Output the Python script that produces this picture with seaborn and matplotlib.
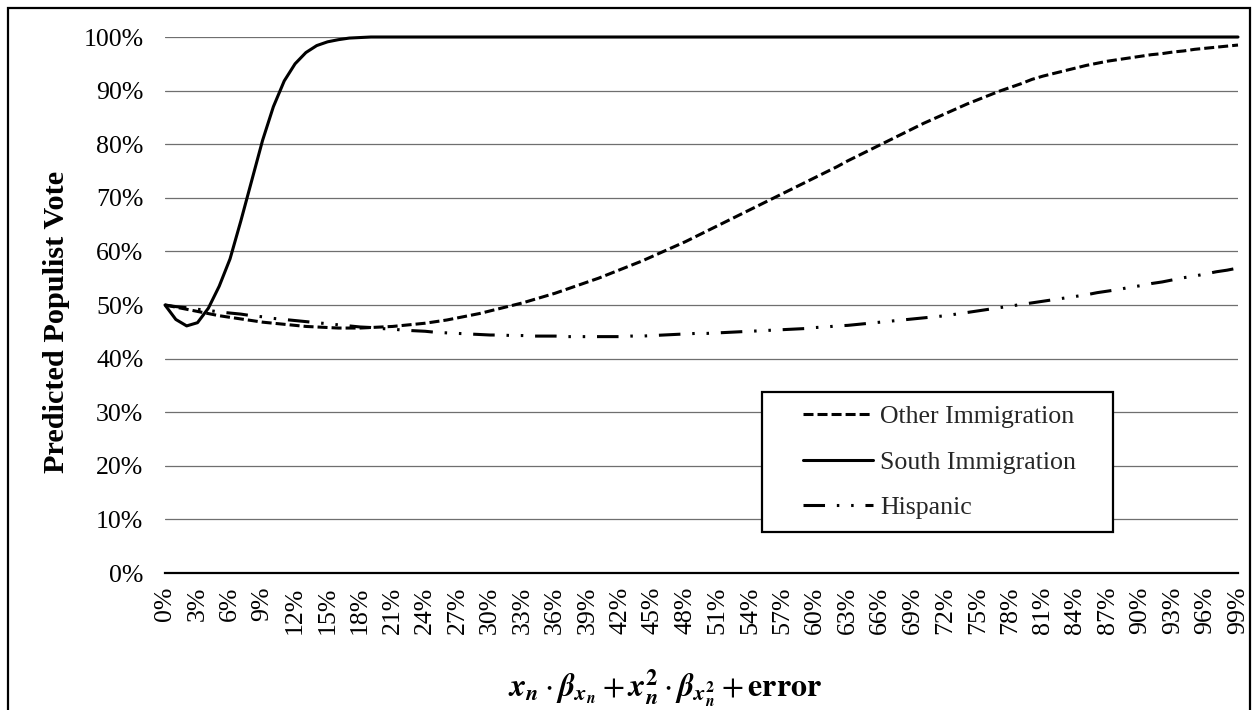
import matplotlib
matplotlib.use("Agg")
import matplotlib.pyplot as plt
from matplotlib.patches import Rectangle
from matplotlib.ticker import PercentFormatter
import seaborn as sns
import pandas as pd

# ---------------- data ----------------
x_values = list(range(100))          # category positions 0% .. 99%
x_tick_step = 3

other_immigration = [
    50.0, 49.6, 49.2, 48.8, 48.4, 48.0, 47.7, 47.4, 47.1, 46.8,
    46.6, 46.4, 46.2, 46.0, 45.9, 45.8, 45.7, 45.7, 45.7, 45.8,
    45.9, 46.0, 46.2, 46.4, 46.6, 46.9, 47.2, 47.6, 48.0, 48.4,
    48.9, 49.4, 49.9, 50.4, 51.0, 51.6, 52.2, 52.9, 53.6, 54.3,
    55.0, 55.8, 56.6, 57.4, 58.2, 59.1, 60.0, 60.9, 61.8, 62.8,
    63.8, 64.8, 65.8, 66.8, 67.8, 68.8, 69.8, 70.8, 71.8, 72.8,
    73.8, 74.8, 75.8, 76.9, 77.9, 78.9, 79.9, 80.9, 81.9, 82.9,
    83.9, 84.8, 85.7, 86.6, 87.5, 88.3, 89.1, 89.9, 90.6, 91.3,
    92.1, 92.7, 93.2, 93.7, 94.2, 94.7, 95.1, 95.5, 95.8, 96.1,
    96.4, 96.7, 96.9, 97.2, 97.4, 97.7, 97.9, 98.1, 98.3, 98.5,
]

south_immigration = [
    50.0, 47.3, 46.1, 46.7, 49.4, 53.5, 58.6, 65.7, 73.2, 80.7,
    87.0, 91.8, 95.0, 97.1, 98.4, 99.1, 99.5, 99.8, 99.9, 100.0,
    100.0, 100.0, 100.0, 100.0, 100.0, 100.0, 100.0, 100.0, 100.0, 100.0,
    100.0, 100.0, 100.0, 100.0, 100.0, 100.0, 100.0, 100.0, 100.0, 100.0,
    100.0, 100.0, 100.0, 100.0, 100.0, 100.0, 100.0, 100.0, 100.0, 100.0,
    100.0, 100.0, 100.0, 100.0, 100.0, 100.0, 100.0, 100.0, 100.0, 100.0,
    100.0, 100.0, 100.0, 100.0, 100.0, 100.0, 100.0, 100.0, 100.0, 100.0,
    100.0, 100.0, 100.0, 100.0, 100.0, 100.0, 100.0, 100.0, 100.0, 100.0,
    100.0, 100.0, 100.0, 100.0, 100.0, 100.0, 100.0, 100.0, 100.0, 100.0,
    100.0, 100.0, 100.0, 100.0, 100.0, 100.0, 100.0, 100.0, 100.0, 100.0,
]

hispanic = [
    50.0, 49.7, 49.5, 49.2, 49.0, 48.7, 48.5, 48.3, 48.0, 47.8,
    47.5, 47.3, 47.1, 46.9, 46.7, 46.5, 46.3, 46.1, 45.9, 45.8,
    45.6, 45.5, 45.3, 45.2, 45.1, 44.9, 44.8, 44.7, 44.6, 44.5,
    44.4, 44.4, 44.3, 44.3, 44.2, 44.2, 44.2, 44.1, 44.1, 44.1,
    44.1, 44.1, 44.1, 44.2, 44.2, 44.3, 44.4, 44.5, 44.6, 44.7,
    44.7, 44.8, 44.9, 45.0, 45.1, 45.2, 45.3, 45.4, 45.5, 45.6,
    45.8, 45.9, 46.1, 46.2, 46.4, 46.6, 46.8, 47.0, 47.2, 47.4,
    47.6, 47.8, 48.0, 48.3, 48.6, 48.9, 49.2, 49.5, 49.8, 50.1,
    50.4, 50.7, 51.0, 51.3, 51.6, 51.9, 52.3, 52.6, 52.9, 53.3,
    53.6, 54.0, 54.3, 54.7, 55.1, 55.4, 55.8, 56.2, 56.5, 56.9,
]

series_names = ["Other Immigration", "South Immigration", "Hispanic"]
y_label = "Predicted Populist Vote"

# ---------------- style ----------------
sns.set_theme(style="white")
plt.rcParams["font.family"] = ["Liberation Serif", "DejaVu Serif"]
plt.rcParams["mathtext.fontset"] = "stix"
plt.rcParams["lines.scale_dashes"] = False

frames = []
for name, vals in zip(series_names, [other_immigration, south_immigration, hispanic]):
    frames.append(pd.DataFrame({"x": x_values,
                                "value": [v / 100.0 for v in vals],
                                "series": name}))
df = pd.concat(frames, ignore_index=True)

dash_map = {
    "Other Immigration": (7.2, 2.9),
    "South Immigration": "",
    "Hispanic": (15.5, 8.5, 1.8, 8.5, 1.8, 8.5),
}

W, H = 1254, 710
fig = plt.figure(figsize=(W / 100, H / 100), dpi=100)
ax = fig.add_axes([165 / W, 1 - 573 / H, (1238 - 165) / W, (573 - 37) / H])

sns.lineplot(data=df, x="x", y="value", style="series", style_order=series_names,
             dashes=dash_map, color="black", linewidth=2.2, sort=False,
             estimator=None, ax=ax, legend=True)

for ln in ax.lines:
    ln.set_clip_on(False)
    ln.set_dash_capstyle("butt")
    ln.set_solid_joinstyle("round")

ax.set_xlim(0, 99)
ax.set_ylim(0, 1)
ax.set_yticks([i / 10 for i in range(11)])
ax.yaxis.set_major_formatter(PercentFormatter(1.0, decimals=0))
ticks = x_values[::x_tick_step]
ax.set_xticks(ticks)
ax.set_xticklabels([f"{t}%" for t in ticks], rotation=90)
ax.tick_params(axis="x", length=0, pad=10, labelsize=18.6, colors="black")
ax.tick_params(axis="y", length=0, pad=15.5, labelsize=18.6, colors="black")
ax.set_xlabel("")
ax.set_ylabel("")

ax.yaxis.grid(True, color="#6f6f6f", linewidth=0.9)
ax.xaxis.grid(False)
ax.set_axisbelow(True)
for s in ["left", "right", "top"]:
    ax.spines[s].set_visible(False)
ax.spines["bottom"].set_color("black")
ax.spines["bottom"].set_linewidth(1.6)
ax.spines["bottom"].set_zorder(3)

# legend
handles, labels = ax.get_legend_handles_labels()
hl = [(h, l) for h, l in zip(handles, labels) if l in series_names]
if ax.get_legend() is not None:
    ax.get_legend().remove()
leg = fig.legend([h for h, _ in hl], [l for _, l in hl],
                 loc="center left", bbox_to_anchor=(803 / W, 1 - 462 / H),
                 frameon=False, fontsize=18.6, handlelength=2.7,
                 handletextpad=0.3, labelspacing=0.87, borderpad=0,
                 borderaxespad=0)
leg.set_zorder(7)
for lh in leg.get_lines():
    lh.set_color("black")
    lh.set_linewidth(2.2)
    lh.set_dash_capstyle("butt")

fig.patches.append(Rectangle((762 / W, 1 - 532 / H), (1113 - 762) / W, (532 - 392) / H,
                             transform=fig.transFigure, facecolor="white",
                             edgecolor="black", linewidth=1.6, zorder=4.5))

# axis titles
fig.text(57 / W, 1 - 322 / H, y_label, rotation=90, ha="center", va="center",
         fontsize=21.8, fontweight="bold", color="black")

xl_full = (r"$\mathbfit{x_n}\cdot\mathbfit{\beta}_{\mathbfit{x_n}}+"
           r"\mathbfit{x}_{\mathbfit{n}}^{\mathbf{2}}\cdot"
           r"\mathbfit{\beta}_{\mathbfit{x}_{\mathbfit{n}}^{\mathbf{2}}}+\mathbf{error}$")
xl_simple = (r"$\mathbf{x_n}\cdot\mathbf{\beta}_{\mathbf{x_n}}+"
             r"\mathbf{x}_{\mathbf{n}}^{\mathbf{2}}\cdot"
             r"\mathbf{\beta}_{\mathbf{x}_{\mathbf{n}}^{\mathbf{2}}}+\mathbf{error}$")
xt = fig.text(665 / W, 1 - 689 / H, xl_full, ha="center", va="center",
              fontsize=23, color="black")
try:
    fig.canvas.draw()
except Exception:
    xt.set_text(xl_simple)

# outer chart border
fig.patches.append(Rectangle((8 / W, -0.02), (1250 - 8) / W, (702 / H) + 0.02,
                             transform=fig.transFigure, fill=False,
                             edgecolor="black", linewidth=1.6, zorder=8))

fig.savefig("out.png", dpi=100, facecolor="white")
